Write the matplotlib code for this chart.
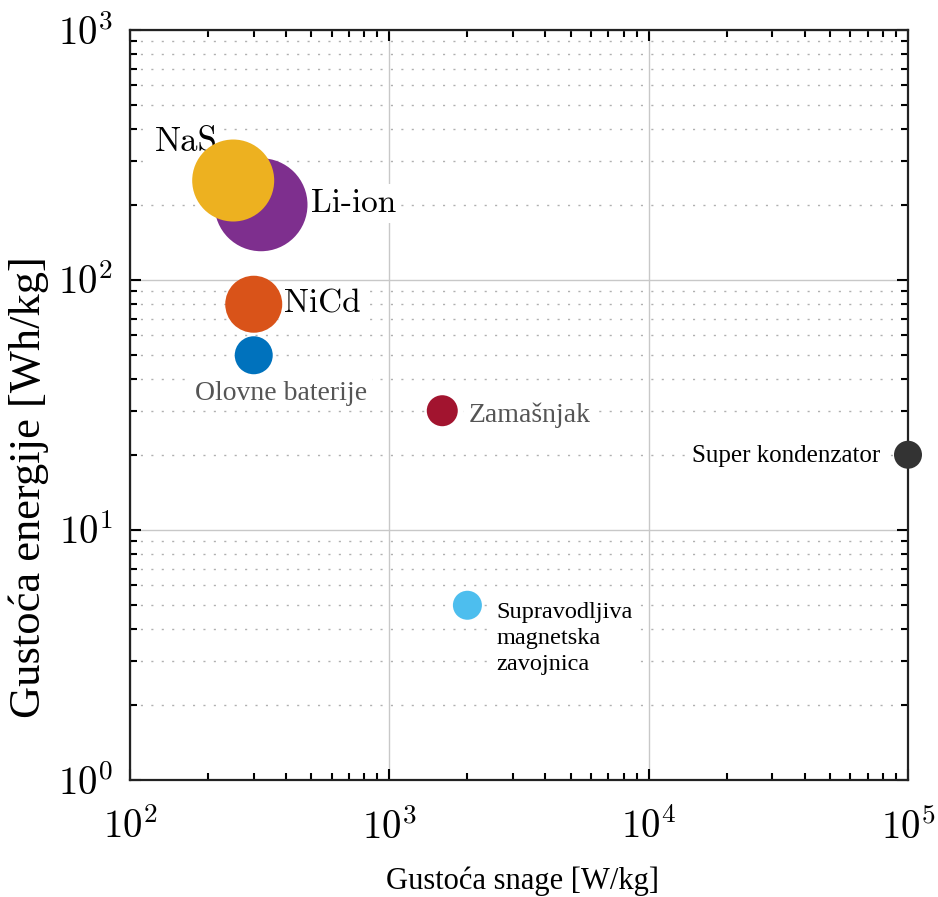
import numpy as np
import matplotlib.pyplot as plt
from matplotlib.ticker import FixedLocator, FixedFormatter, NullFormatter

plt.rcParams['font.family'] = ['Liberation Serif', 'DejaVu Serif']
plt.rcParams['mathtext.fontset'] = 'cm'

# data: power density [W/kg], energy density [Wh/kg]
names = ['Li-ion', 'NaS', 'NiCd', 'Olovne baterije', 'Zamašnjak',
         'Supravodljiva\nmagnetska\nzavojnica', 'Super kondenzator']
power = [320, 250, 300, 300, 1600, 2000, 100000]
energy = [200, 250, 80, 50, 30, 5, 20]

x_ticks = [1e2, 1e3, 1e4, 1e5]
x_ticklabels = [r'$10^{2}$', r'$10^{3}$', r'$10^{4}$', r'$10^{5}$']
y_ticks = [1e0, 1e1, 1e2, 1e3]
y_ticklabels = [r'$10^{0}$', r'$10^{1}$', r'$10^{2}$', r'$10^{3}$']

# styling (matlab-like colours), bubble diameters in px
colors = ['#7E2F8E', '#EDB120', '#D95319', '#0072BD', '#A2142F', '#4DBEEE', '#333333']
diam_px = [93, 82, 57, 38, 31, 29, 28]
# label placement: (dx, dy) in points, ha, va, font, size, colour
label_style = [
    ((36, -5), 'left', 'baseline', 'cmr10', 24, 'black'),
    ((-11, 21), 'right', 'baseline', 'cmr10', 25, 'black'),
    ((21.6, -6), 'left', 'baseline', 'cmr10', 24, 'black'),
    ((20, -32), 'center', 'baseline', 'Liberation Serif', 20, '#555555'),
    ((19, -8), 'left', 'baseline', 'Liberation Serif', 20, '#555555'),
    ((21, 2), 'left', 'top', 'Liberation Serif', 17.5, 'black'),
    ((-20, -5.4), 'right', 'baseline', 'Liberation Serif', 18, 'black'),
]

fig = plt.figure(figsize=(9.38, 8.97), dpi=100)
ax = fig.add_axes([130 / 938, 1 - 780 / 897, 778 / 938, 750 / 897])
ax.set_xscale('log')
ax.set_yscale('log')
ax.set_xlim(1e2, 1e5)
ax.set_ylim(1e0, 1e3)

# grid: solid major, dotted minor horizontal only
ax.grid(True, which='major', color='#c8c8c8', linewidth=1.0, linestyle='-')
ax.yaxis.grid(True, which='minor', color='#b0b0b0', linewidth=1.0,
              linestyle=(0, (1.5, 6)))
ax.set_axisbelow(True)

for x, y, c, d in zip(power, energy, colors, diam_px):
    s = (d * 0.72) ** 2
    ax.scatter([x], [y], s=s, color=c, edgecolors='none', zorder=3, clip_on=False)

for name, x, y, st in zip(names, power, energy, label_style):
    (dx, dy), ha, va, fam, fs, col = st
    ax.annotate(name, (x, y), xytext=(dx, dy), textcoords='offset points',
                ha=ha, va=va, family=fam, fontsize=fs, color=col,
                linespacing=1.3, zorder=2.5,
                bbox=dict(boxstyle='square,pad=0.15', fc='white', ec='none'))

ax.xaxis.set_major_locator(FixedLocator(x_ticks))
ax.xaxis.set_major_formatter(FixedFormatter(x_ticklabels))
ax.yaxis.set_major_locator(FixedLocator(y_ticks))
ax.yaxis.set_major_formatter(FixedFormatter(y_ticklabels))
ax.xaxis.set_minor_formatter(NullFormatter())
ax.yaxis.set_minor_formatter(NullFormatter())

ax.tick_params(which='both', direction='in', top=True, right=True, width=1.5)
ax.tick_params(which='major', length=8, labelsize=28)
ax.tick_params(which='minor', length=5)
ax.tick_params(axis='x', which='major', pad=21)
ax.tick_params(axis='y', which='major', pad=12)
for sp in ax.spines.values():
    sp.set_linewidth(1.6)
    sp.set_color('#222222')

ax.set_xlabel('Gustoća snage [W/kg]', fontsize=22, va='center')
ax.xaxis.set_label_coords(0.504, -0.135)
ax.set_ylabel('Gustoća energije [Wh/kg]', fontsize=32, va='center')
ax.yaxis.set_label_coords(-0.13, 0.39)

fig.savefig('out.png', dpi=100)
